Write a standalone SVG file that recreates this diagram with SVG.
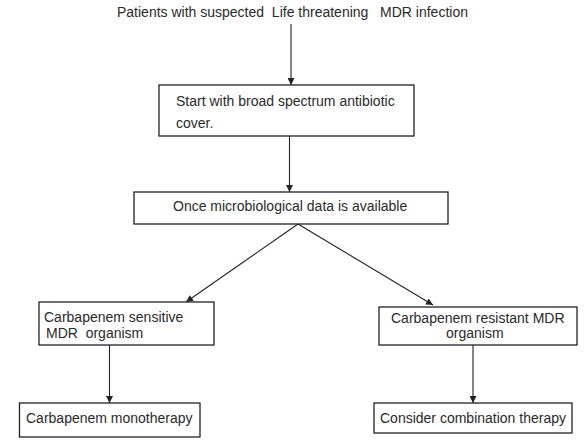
<svg xmlns="http://www.w3.org/2000/svg" width="585" height="440" viewBox="0 0 585 440">
<style>
text{font-family:"Liberation Sans",Arial,sans-serif;font-size:14px;fill:#2a2a2a;white-space:pre}
.box{fill:#fff;stroke:#222;stroke-width:1.3}
.ln{stroke:#222;stroke-width:1.1;fill:none;marker-end:url(#ah)}
</style>
<defs>
<marker id="ah" viewBox="0 0 10 10" refX="10" refY="5" markerWidth="8" markerHeight="7" markerUnits="userSpaceOnUse" orient="auto">
<path d="M0,0 L10,5 L0,10 Z" fill="#222"/>
</marker>
</defs>
<rect width="585" height="440" fill="#fff"/>
<g id="connectors">
<line class="ln" x1="291" y1="24" x2="291" y2="85"/>
<line class="ln" x1="289.5" y1="136" x2="289.5" y2="192"/>
<line class="ln" x1="298" y1="224" x2="186" y2="302"/>
<line class="ln" x1="298" y1="224" x2="433" y2="305"/>
<line class="ln" x1="109.5" y1="345" x2="109.5" y2="403"/>
<line class="ln" x1="473" y1="345" x2="473" y2="403"/>
</g>
<g id="start">
<text x="117" y="17" xml:space="preserve">Patients with suspected  Life threatening   MDR infection</text>
</g>
<g id="broad">
<rect class="box" x="159" y="85" width="255" height="51"/>
<text x="176" y="106">Start with broad spectrum antibiotic</text>
<text x="176" y="128">cover.</text>
</g>
<g id="micro">
<rect class="box" x="134" y="192" width="314" height="32"/>
<text x="173" y="211">Once microbiological data is available</text>
</g>
<g id="sensitive">
<rect class="box" x="39" y="302" width="175" height="43"/>
<text x="44" y="322">Carbapenem sensitive</text>
<text x="46" y="338" xml:space="preserve">MDR  organism</text>
</g>
<g id="resistant">
<rect class="box" x="379" y="307" width="198" height="38"/>
<text x="391" y="323">Carbapenem resistant MDR</text>
<text x="446" y="338">organism</text>
</g>
<g id="mono">
<rect class="box" x="19.5" y="403" width="180.5" height="34"/>
<text x="26" y="423">Carbapenem monotherapy</text>
</g>
<g id="combo">
<rect class="box" x="374" y="403" width="198" height="30"/>
<text x="380" y="423">Consider combination therapy</text>
</g>
</svg>
